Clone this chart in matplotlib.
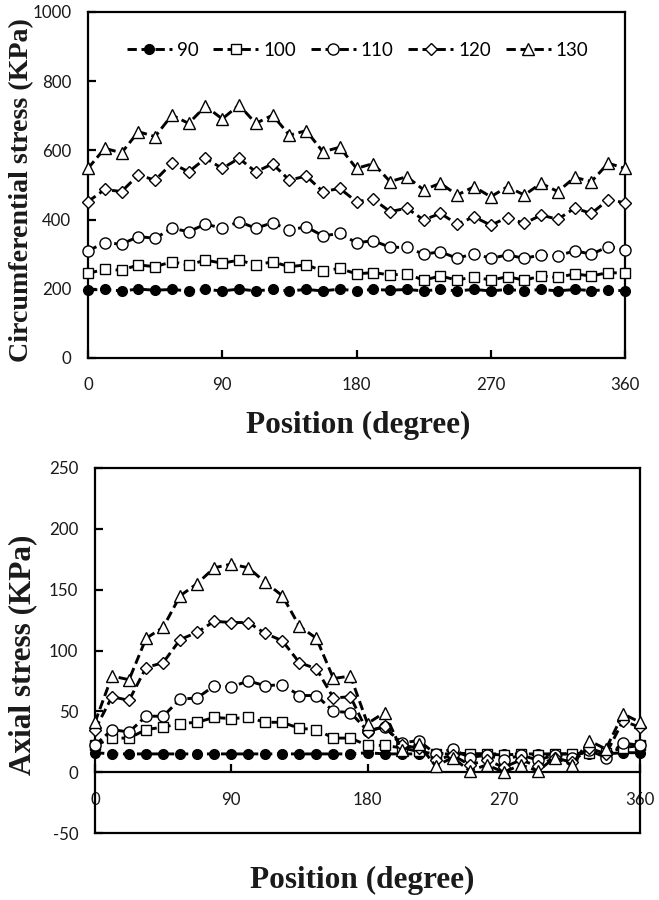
import matplotlib
matplotlib.use("Agg")
import matplotlib.pyplot as plt

plt.rcParams["axes.unicode_minus"] = False

# ---------------- data ----------------
positions = [0, 11.25, 22.5, 33.75, 45, 56.25, 67.5, 78.75, 90, 101.25, 112.5, 123.75,
             135, 146.25, 157.5, 168.75, 180, 191.25, 202.5, 213.75, 225, 236.25, 247.5,
             258.75, 270, 281.25, 292.5, 303.75, 315, 326.25, 337.5, 348.75, 360]
series_labels = ["90", "100", "110", "120", "130"]

circ_90 = [197, 198, 194, 199, 196, 198, 194, 198, 194, 199, 194, 198, 194, 198, 194, 199, 194,
           198, 196, 198, 194, 198, 194, 198, 194, 198, 194, 198, 194, 198, 195, 197, 194]
circ_100 = [245, 256, 254, 269, 264, 278, 269, 283, 274, 283, 269, 278, 264, 269, 252, 259, 243,
            247, 240, 243, 225, 237, 225, 235, 225, 235, 225, 237, 233, 243, 237, 247, 245]
circ_110 = [310, 333, 329, 351, 346, 375, 365, 387, 375, 394, 375, 391, 370, 379, 353, 360, 333,
            339, 320, 320, 300, 307, 288, 302, 288, 298, 288, 298, 295, 310, 300, 322, 312]
circ_120 = [452, 487, 481, 529, 514, 563, 538, 577, 548, 577, 538, 561, 514, 526, 481, 490, 452,
            459, 423, 433, 399, 418, 387, 408, 384, 406, 389, 413, 401, 433, 418, 457, 449]
circ_130 = [548, 606, 593, 654, 640, 702, 678, 728, 691, 731, 678, 702, 644, 657, 596, 609, 548,
            562, 510, 524, 486, 505, 471, 495, 466, 495, 471, 505, 481, 522, 510, 563, 548]

axial_90 = [16, 15, 15, 15, 15, 15, 15, 15, 15, 15, 15, 15, 15, 15, 15, 15, 16,
            15, 15, 15, 15, 15, 15, 15, 15, 15, 15, 15, 15, 15, 15, 16, 16]
axial_100 = [22, 28, 28, 35, 37, 40, 41, 45, 44, 45, 41, 41, 36, 35, 28, 28, 22,
             22, 20, 17, 15, 16, 15, 15, 14, 15, 14, 15, 15, 16, 16, 20, 22]
axial_110 = [22, 35, 33, 46, 46, 60, 61, 71, 70, 75, 71, 72, 63, 63, 50, 49, 34,
             37, 24, 26, 15, 19, 12, 14, 10, 14, 10, 14, 12, 18, 12, 24, 22]
axial_120 = [35, 62, 59, 86, 90, 109, 115, 124, 123, 123, 114, 108, 90, 85, 61, 62, 33,
             38, 22, 20, 10, 14, 6, 10, 4, 10, 5, 12, 8, 20, 15, 42, 37]
axial_130 = [41, 79, 76, 110, 119, 145, 155, 168, 171, 168, 156, 145, 120, 110, 77, 79, 40,
             49, 18, 23, 5, 12, 1, 6, 0, 6, 1, 12, 6, 26, 19, 48, 41]

x_ticks = [0, 90, 180, 270, 360]
circ_yticks = [0, 200, 400, 600, 800, 1000]
axial_yticks = [-50, 0, 50, 100, 150, 200, 250]

# ---------------- style ----------------
tick_font = "Lato"
label_font = "Liberation Serif"
markers = ["o", "s", "o", "D", "^"]
faces = ["black", "white", "white", "white", "white"]
msizes = [7, 7, 8, 6.3, 8.5]

fig = plt.figure(figsize=(6.59, 9), dpi=100)
ax1 = fig.add_axes([88/659, 1-358/900, (625-88)/659, (358-12)/900])
ax2 = fig.add_axes([95/659, 1-833/900, (640-95)/659, (833-468)/900])

def draw(ax, data):
    for vals, lab, m, fc, ms in zip(data, series_labels, markers, faces, msizes):
        ax.plot(positions, vals, linestyle=(0, (3.2, 1.6)), color="black", lw=2.1,
                marker=m, markersize=ms, markerfacecolor=fc,
                markeredgecolor="black", markeredgewidth=1.0, label=lab, clip_on=False,
                zorder=3)

def style(ax):
    for s in ax.spines.values():
        s.set_linewidth(1.6)
    ax.tick_params(direction="in", length=6, width=1.6, labelsize=12.2, pad=14,
                   colors="black")
    for lab in ax.get_xticklabels() + ax.get_yticklabels():
        lab.set_fontfamily(tick_font)
        lab.set_color("#1a1a1a")

# top chart
draw(ax1, [circ_90, circ_100, circ_110, circ_120, circ_130])
ax1.set_xlim(0, 360)
ax1.set_ylim(0, 1000)
ax1.set_xticks(x_ticks)
ax1.set_yticks(circ_yticks)
style(ax1)
ax1.tick_params(axis="y", pad=12)
ax1.legend(loc="center", bbox_to_anchor=(0.502, 0.89), ncol=5, frameon=False,
           handlelength=2.4, handletextpad=0.25, columnspacing=0.8,
           prop={"family": tick_font, "size": 13.5})

# bottom chart
draw(ax2, [axial_90, axial_100, axial_110, axial_120, axial_130])
ax2.set_xlim(0, 360)
ax2.set_ylim(-50, 250)
ax2.set_xticks(x_ticks)
ax2.set_yticks(axial_yticks)
ax2.spines["bottom"].set_position(("data", 0))
ax2.plot([0, 1], [0, 0], transform=ax2.transAxes, color="black", lw=1.6, clip_on=False,
         solid_capstyle="projecting")
style(ax2)
ax2.tick_params(axis="y", pad=12)

# axis labels
lab_kw = dict(fontfamily=label_font, fontweight="bold", color="#1a1a1a")
fig.text(22/659, 1-190/900, "Circumferential stress (KPa)", rotation=90,
         ha="center", va="center", fontsize=20.2, **lab_kw)
fig.text(358/659, 1-425/900, "Position (degree)", ha="center", va="center",
         fontsize=22.5, **lab_kw)
fig.text(23/659, 1-655/900, "Axial stress (KPa)", rotation=90,
         ha="center", va="center", fontsize=22.5, **lab_kw)
fig.text(362/659, 1-880/900, "Position (degree)", ha="center", va="center",
         fontsize=22.5, **lab_kw)

fig.savefig("out.png", dpi=100)
